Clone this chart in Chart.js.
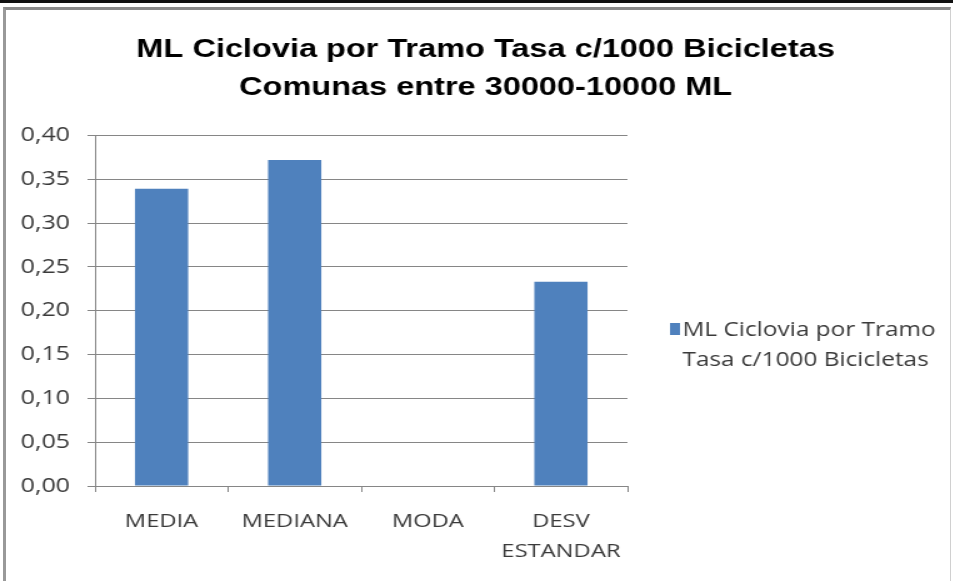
<!DOCTYPE html>
<html>
<head>
<meta charset="utf-8">
<script src="https://cdn.jsdelivr.net/npm/chart.js@4.4.0/dist/chart.umd.min.js"></script>
<style>
  body { margin: 0; background: #fff; }
  #wrap { position: relative; width: 953px; height: 581px; overflow: hidden; }
  #topbar { position: absolute; left: 0; top: 0; width: 953px; height: 3px; background: #111; }
  #frame { position: absolute; left: 3px; top: 7px; width: 944px; height: 600px;
           border-left: 3px solid #999; border-top: 3px solid #8a8a8a; border-right: 1px solid #d0d0d0; }
  /* the reference picture is stretched sideways, so the chart is too */
  #myChart { position: absolute; left: 0; top: 0; transform: scaleX(1.25); transform-origin: 0 0; }
</style>
</head>
<body>
<div id="wrap">
  <div id="topbar"></div>
  <div id="frame"></div>
  <canvas id="myChart" width="762" height="581"></canvas>
</div>
<script>
const titleLines = ["ML Ciclovia por Tramo Tasa c/1000 Bicicletas", "Comunas entre 30000-10000 ML"];
const categories = ["MEDIA", "MEDIANA", "MODA", ["DESV", "ESTANDAR"]];
const seriesName = ["ML Ciclovia por Tramo", "Tasa c/1000 Bicicletas"];
const values = [0.339, 0.372, 0, 0.233];
const yTicks = [0, 0.05, 0.1, 0.15, 0.2, 0.25, 0.3, 0.35, 0.4];

const barColor = "#4f81bd";
const gridColor = "#868686";
const textColor = "#3a3a3a";
const textFont = "'Open Sans', sans-serif";

// title centred on the whole chart, not only over the plot area
const titleCenter = {
  id: "titleCenter",
  afterLayout: (chart) => {
    chart.titleBlock.left = 0;
    chart.titleBlock.right = 777;
    chart.titleBlock.width = 777;
  },
};

// legend drawn by hand so the series name can wrap on two lines
const sideLegend = {
  id: "sideLegend",
  afterDraw: (chart) => {
    const ctx = chart.ctx;
    const x = 536;
    const y = 330;
    ctx.save();
    ctx.fillStyle = barColor;
    ctx.fillRect(x, y - 7, 8, 12);
    ctx.fillStyle = textColor;
    ctx.font = "19.5px " + textFont;
    ctx.textBaseline = "middle";
    ctx.fillText(seriesName[0], x + 10, y);
    ctx.fillText(seriesName[1], x + 10, y + 30);
    ctx.restore();
  },
};

const ctx = document.getElementById("myChart").getContext("2d");
const chart = new Chart(ctx, {
  type: "bar",
  data: {
    labels: categories,
    datasets: [
      {
        label: seriesName.join(" "),
        data: values,
        backgroundColor: barColor,
        barPercentage: 0.4,
        categoryPercentage: 1,
      },
    ],
  },
  options: {
    responsive: false,
    animation: false,
    layout: { padding: { left: 0, right: 260, top: 0, bottom: 0 } },
    plugins: {
      legend: { display: false },
      tooltip: { enabled: false },
      title: {
        display: true,
        text: titleLines,
        color: "#000",
        font: { family: "'Liberation Sans', Arial, sans-serif", size: 26, weight: "bold", lineHeight: 1.45 },
        padding: { top: 31, bottom: 29 },
      },
    },
    scales: {
      x: {
        afterFit: (scale) => { scale.height = 95; },
        grid: { drawOnChartArea: false, drawTicks: true, tickLength: 6, color: gridColor, offset: true },
        border: { display: true, color: gridColor },
        ticks: { color: textColor, font: { family: textFont, size: 19, lineHeight: 1.55 }, padding: 15, maxRotation: 0, autoSkip: false },
      },
      y: {
        min: 0,
        max: 0.4,
        afterFit: (scale) => { scale.width = 76; },
        afterBuildTicks: (scale) => { scale.ticks = yTicks.map((v) => ({ value: v })); },
        grid: { color: gridColor, tickLength: 6 },
        border: { display: true, color: gridColor },
        ticks: {
          color: textColor,
          font: { family: textFont, size: 20 },
          padding: 14,
          callback: (value) => value.toFixed(2).replace(".", ","),
        },
      },
    },
  },
  plugins: [titleCenter, sideLegend],
});
</script>
</body>
</html>
